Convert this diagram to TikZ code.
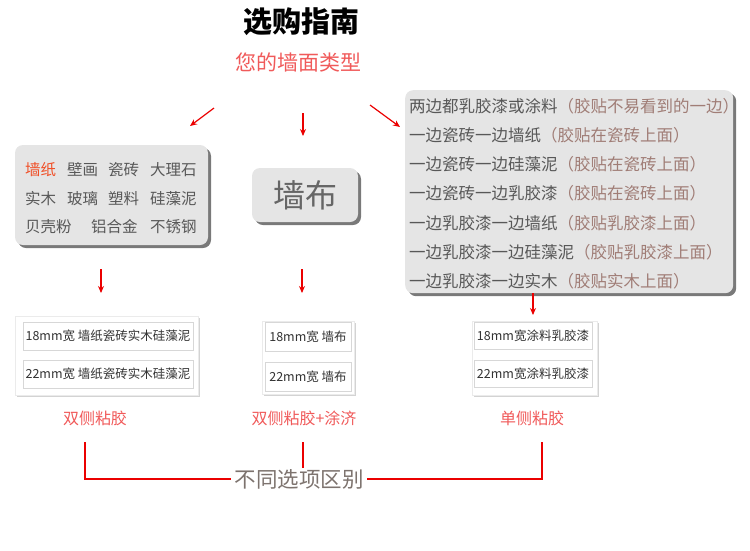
\documentclass[tikz,border=0pt]{standalone}
\usepackage{fontspec}
\setmainfont{Noto Sans CJK SC}
\usepackage{xcolor}
\usepackage{tikz}
\usetikzlibrary{arrows.meta, positioning, shadows}
\definecolor{arrowred}{RGB}{235, 0, 0}
\definecolor{pinktext}{RGB}{240, 90, 90}
\definecolor{wallred}{RGB}{240, 80, 40}
\definecolor{boxgray}{RGB}{229, 229, 229}
\definecolor{wordgray}{RGB}{88, 88, 88}
\definecolor{notebrown}{RGB}{160, 125, 118}
\definecolor{framegray}{RGB}{215, 215, 215}
\definecolor{diffgray}{RGB}{125, 115, 110}
\tikzstyle{graybox} = [rectangle, fill=boxgray, rounded corners=8pt, drop shadow={shadow xshift=3pt, shadow yshift=-3pt, opacity=0.7, fill=black!75}]
\tikzstyle{panel} = [rectangle, fill=white, draw=black!8, drop shadow={shadow xshift=2pt, shadow yshift=-2pt, opacity=0.35}]
\tikzstyle{tag} = [rectangle, draw=framegray, fill=white, line width=0.8pt, text=black!80, font=\fontsize{12.5}{14}\selectfont, inner sep=0pt]
\tikzstyle{word} = [anchor=west, text=wordgray, inner sep=0pt, font=\fontsize{15.5}{17}\selectfont]
\tikzstyle{kind} = [text=pinktext, font=\fontsize{16}{18}\selectfont]
\tikzstyle{arrow} = [-{Stealth[length=7pt, width=6pt]}, arrowred, line width=1.2pt]
\tikzstyle{bracket} = [arrowred, line width=1.2pt]

\begin{document}
\begin{tikzpicture}[x=1pt, y=-1pt]
    \useasboundingbox (0,0) rectangle (750,550);
    % Title
    \node[font=\fontsize{29}{32}\selectfont\bfseries] (title) at (301,22) {选购指南};
    \node[text=pinktext, font=\fontsize{21}{24}\selectfont] (walltype) at (298,62) {您的墙面类型};

    % Arrows from the title
    \coordinate (lefttop) at (214,108);
    \coordinate (lefttip) at (190,126);
    \coordinate (midtop) at (303,113);
    \coordinate (midtip) at (303,136);
    \coordinate (righttop) at (370,105);
    \coordinate (righttip) at (400,127);
    \draw[arrow] (lefttop) -- (lefttip);
    \draw[arrow] (midtop) -- (midtip);
    \draw[arrow] (righttop) -- (righttip);

    % Hard walls
    \node[graybox, minimum width=193pt, minimum height=100pt] (hardwall) at (111.5,195) {};
    \node[word, text=wallred] (paper) at (25,170) {墙纸};
    \foreach \w/\x/\y in {壁画/67/170, 瓷砖/108/170, 大理石/150/170,
                          实木/25/199, 玻璃/67/199, 塑料/108/199, 硅藻泥/150/199,
                          贝壳粉/25/227, 铝合金/91/227, 不锈钢/150/227}
        \node[word] at (\x,\y) {\w};

    % Wall cloth
    \node[graybox, minimum width=106pt, minimum height=54pt, text=black!60,
          font=\fontsize{32}{34}\selectfont] (cloth) at (305,195) {墙布};

    % Mixed walls
    \node[graybox, anchor=north west, minimum width=328pt, minimum height=203pt] (mixwall) at (405,90) {};
    \foreach \a/\b/\y in {两边都乳胶漆或涂料/胶贴不易看到的一边/106,
                          一边瓷砖一边墙纸/胶贴在瓷砖上面/135.2,
                          一边瓷砖一边硅藻泥/胶贴在瓷砖上面/164.4,
                          一边瓷砖一边乳胶漆/胶贴在瓷砖上面/193.6,
                          一边乳胶漆一边墙纸/胶贴乳胶漆上面/222.8,
                          一边乳胶漆一边硅藻泥/胶贴乳胶漆上面/252,
                          一边乳胶漆一边实木/胶贴实木上面/281.2}
        \node[word, font=\fontsize{16.5}{18}\selectfont] at (409,\y) {\a\textcolor{notebrown}{（\b）}};

    % Tapes
    \node[panel, minimum width=183pt, minimum height=79pt] (tapeone) at (106.5,355.5) {};
    \node[tag, minimum width=170pt, minimum height=28pt] (tapeonea) at (108,336) {18mm宽 墙纸瓷砖实木硅藻泥};
    \node[tag, minimum width=170pt, minimum height=28pt] (tapeoneb) at (108,374) {22mm宽 墙纸瓷砖实木硅藻泥};

    \node[panel, minimum width=92pt, minimum height=73pt] (tapetwo) at (308,357.5) {};
    \node[tag, minimum width=86pt, minimum height=29pt] (tapetwoa) at (308,336.5) {18mm宽 墙布};
    \node[tag, minimum width=86pt, minimum height=29pt] (tapetwob) at (308,376.5) {22mm宽 墙布};

    \node[panel, minimum width=125pt, minimum height=74pt] (tapethree) at (534.5,358) {};
    \node[tag, minimum width=118pt, minimum height=27pt] (tapethreea) at (533,335.5) {18mm宽涂料乳胶漆};
    \node[tag, minimum width=118pt, minimum height=27pt] (tapethreeb) at (533,373.5) {22mm宽涂料乳胶漆};

    % Arrows down
    \coordinate (downone) at (101,269);
    \coordinate (downonetip) at (101,293);
    \coordinate (downtwo) at (302,269);
    \coordinate (downtwotip) at (302,293);
    \coordinate (downthreetip) at (533,315);
    \draw[arrow] (downone) -- (downonetip);
    \draw[arrow] (downtwo) -- (downtwotip);
    \draw[arrow] (mixwall.south -| downthreetip) -- (downthreetip);

    % Kinds of glue
    \node[kind] (double) at (95,418) {双侧粘胶};
    \node[kind] (doubleplus) at (304,418) {双侧粘胶+涂济};
    \node[kind] (single) at (532,418) {单侧粘胶};

    % Difference bracket
    \node[text=diffgray, font=\fontsize{21.5}{24}\selectfont, inner sep=3pt] (diff) at (299,479) {不同选项区别};
    \coordinate (bracketl) at (85,442);
    \coordinate (bracketm) at (303,442);
    \coordinate (bracketr) at (542,442);
    \draw[bracket] (bracketl) |- (diff.west);
    \draw[bracket] (bracketr) |- (diff.east);
    \draw[bracket] (bracketm) -- ([yshift=-2pt]bracketm |- diff.north);
\end{tikzpicture}
\end{document}
